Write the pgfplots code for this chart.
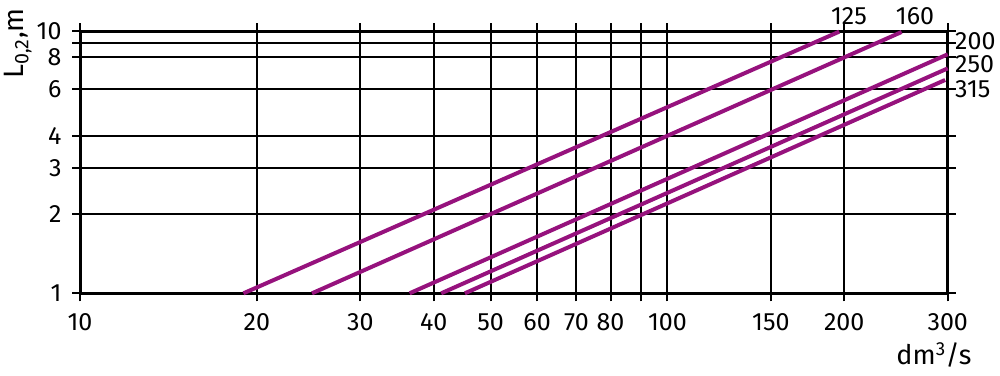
\documentclass[border=0pt]{standalone}
\usepackage{fontspec}
\setmainfont{Fira Sans}
\usepackage{pgfplots}
\pgfplotsset{compat=1.18}
\definecolor{lc}{RGB}{150,18,125}
\begin{document}
\fontsize{25}{30}\selectfont
\begin{tikzpicture}
\begin{axis}[
  at={(0,0)}, anchor=south west,
  scale only axis, width=867.7pt, height=262pt,
  xmode=log, ymode=log,
  xmin=10, xmax=300, ymin=1, ymax=10,
  xtick={10,20,30,40,50,60,70,80,90,100,150,200,300},
  xticklabels={10,20,30,40,50,60,70,80,,100,150,200,300},
  ytick={1,2,3,4,6,8,9,10},
  yticklabels={1,2,3,4,6,8,,10},
  xminorticks=false, yminorticks=false,
  /pgf/number format/assume math mode=true,
  tick label style={font=\fontsize{25}{30}\selectfont},
  tick align=outside,
  major tick length=8pt,
  tick style={black, line width=2pt},
  grid=major,
  major grid style={black, line width=2pt},
  axis line style={black, line width=3pt},
  xticklabel style={yshift=-4pt},
  yticklabel style={xshift=-2pt},
  clip=false,
]
\addplot[lc, line width=4pt] coordinates {(18.98,1) (196.1,9.97)};
\addplot[lc, line width=4pt] coordinates {(24.83,1) (250.4,9.94)};
\addplot[lc, line width=4pt] coordinates {(36.4,1) (300,8.17)};
\addplot[lc, line width=4pt] coordinates {(41.2,1) (300,7.22)};
\addplot[lc, line width=4pt] coordinates {(45.2,1) (297,6.52)};
\end{axis}
\tikzset{lab/.style={inner sep=0pt, text height=17pt, text depth=0pt}}
\node[lab] at (769pt,277.3pt) {125};
\node[lab] at (835pt,277.3pt) {160};
\node[lab, anchor=west] at (875pt,252.3pt) {200};
\node[lab, anchor=west] at (875pt,229.3pt) {250};
\node[lab, anchor=west] at (875pt,204.3pt) {315};
\node[rotate=90, font=\fontsize{28}{33}\selectfont] at (-62pt,250pt) {L\textsubscript{0,2},m};
\node[font=\fontsize{27}{32}\selectfont] at (854pt,-61.7pt) {dm\textsuperscript{3}/s};
\pgfresetboundingbox
\path[use as bounding box] (-80pt,-81.7pt) rectangle (920pt,293.3pt);
\end{tikzpicture}
\end{document}
